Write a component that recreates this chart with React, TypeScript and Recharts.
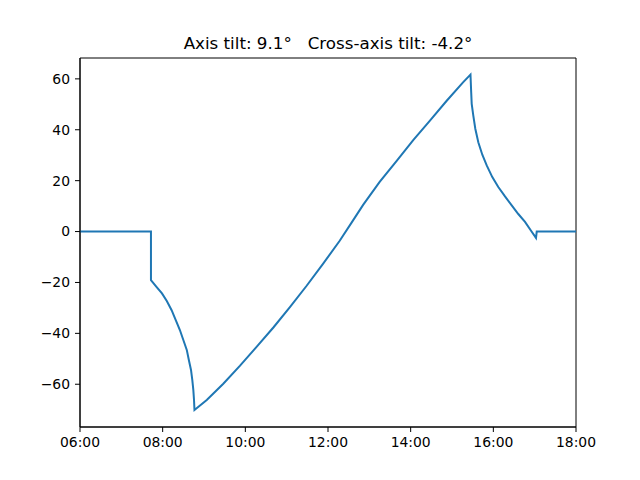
import { LineChart, Line, XAxis, YAxis, ReferenceArea } from "recharts"

// time of day and tracker rotation (degrees)
const times = [
  "06:00", "07:43", "07:43",
  "07:51", "07:59", "08:06", "08:13", "08:19", "08:25", "08:30", "08:35", "08:38",
  "08:41:08", "08:43:00", "08:44:30", "08:45:30", "08:46:10",
  "09:04", "09:28", "09:52", "10:16", "10:41", "11:05", "11:29", "11:53", "12:17", "12:34",
  "12:51", "13:15", "13:40", "14:04", "14:28", "14:52", "15:16", "15:26:50",
  "15:27:52", "15:28:36", "15:30:56", "15:33:50", "15:38:11", "15:44:00", "15:50:23",
  "15:58:30", "16:07:12", "16:16:56", "16:26:40", "16:36:14", "16:46:00", "16:54:14",
  "17:01:56", "17:03:00", "18:00",
]
const tilt = [
  0, 0, -19.1,
  -21.7, -24.3, -27.3, -30.9, -34.8, -38.7, -42.6, -46.5, -50.5,
  -54.4, -58.3, -62.2, -66.2, -70.1,
  -66.2, -59.8, -52.8, -45.4, -37.6, -29.6, -21.3, -12.6, -3.6, 3.4,
  10.5, 19.5, 27.9, 36.0, 43.6, 51.3, 58.6, 61.7,
  54.7, 50.2, 45.6, 40.4, 35.1, 30.2, 26.0,
  21.4, 17.5, 13.8, 10.3, 6.9, 3.8, 0.5,
  -2.5, 0, 0,
]

const xTicks = ["06:00", "08:00", "10:00", "12:00", "14:00", "16:00", "18:00"]
const yTicks = [-60, -40, -20, 0, 20, 40, 60]
const yDomain = [-76.8, 68.2]
const title = "Axis tilt: 9.1°   Cross-axis tilt: -4.2°"

const toMin = (s: string) => {
  const [h, m, sec = 0] = s.split(":").map(Number)
  return h * 60 + m + sec / 60
}
const fmtTime = (v: number) =>
  `${String(Math.floor(v / 60)).padStart(2, "0")}:${String(Math.round(v % 60)).padStart(2, "0")}`
const fmtNum = (v: number) => (v < 0 ? `\u2212${-v}` : `${v}`)

const data = times.map((t, i) => ({ t: toMin(t), tilt: tilt[i] }))
const xDomain = [toMin(xTicks[0]), toMin(xTicks[xTicks.length - 1])]

const font = "'DejaVu Sans', sans-serif"
const tickStyle = { fill: "#000", fontSize: 13.9, fontFamily: font }

export default function App() {
  return (
    <div style={{ position: "fixed", left: 0, top: 0, width: 640, height: 480, background: "#fff" }}>
      <div
        style={{
          position: "absolute",
          left: 80,
          width: 496,
          top: 35,
          textAlign: "center",
          fontFamily: font,
          fontSize: 16.7,
          lineHeight: "16.7px",
          whiteSpace: "pre",
          color: "#000",
        }}
      >
        {title}
      </div>
      <LineChart width={640} height={480} data={data} margin={{ top: 58, right: 64, bottom: 0, left: 0 }}>
        <XAxis
          dataKey="t"
          type="number"
          domain={xDomain}
          ticks={xTicks.map(toMin)}
          interval={0}
          tickFormatter={fmtTime}
          height={53}
          stroke="#000"
          tickSize={5}
          tickMargin={5}
          tick={tickStyle}
        />
        <YAxis
          type="number"
          domain={yDomain}
          ticks={yTicks}
          interval={0}
          tickFormatter={fmtNum}
          width={80}
          stroke="#000"
          tickSize={5}
          tickMargin={5}
          tick={tickStyle}
        />
        <ReferenceArea
          x1={xDomain[0]}
          x2={xDomain[1]}
          y1={yDomain[0]}
          y2={yDomain[1]}
          fill="none"
          fillOpacity={0}
          stroke="#000"
          strokeWidth={1}
          strokeOpacity={1}
        />
        <Line
          type="linear"
          dataKey="tilt"
          stroke="#1f77b4"
          strokeWidth={2}
          dot={false}
          isAnimationActive={false}
        />
      </LineChart>
    </div>
  )
}
